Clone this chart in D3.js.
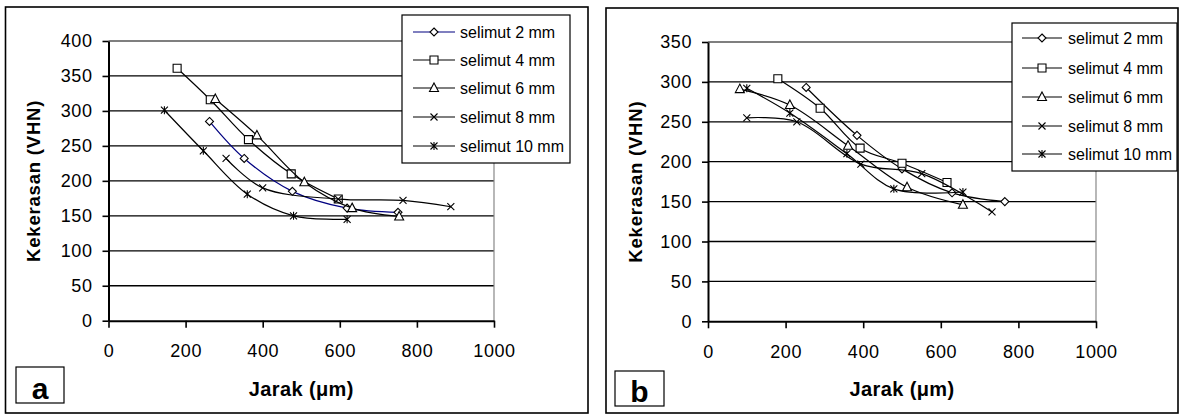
<!DOCTYPE html>
<html>
<head>
<meta charset="utf-8">
<script src="https://cdn.jsdelivr.net/npm/d3@7"></script>
<style>
  body { margin: 0; background: #fff; }
  svg { display: block; font-family: "Liberation Sans", Arial, sans-serif; }
</style>
</head>
<body>
<svg></svg>
<script>
var width = 1186;
var height = 416;

// legend names and ticks
var seriesNames = ["selimut 2 mm", "selimut 4 mm", "selimut 6 mm", "selimut 8 mm", "selimut 10 mm"];
var markerTypes = ["diamond", "square", "triangle", "cross", "star"];
var xTicks = [0, 200, 400, 600, 800, 1000];
var yTicksA = [0, 50, 100, 150, 200, 250, 300, 350, 400];
var yTicksB = [0, 50, 100, 150, 200, 250, 300, 350];

// panel a : [jarak (um), kekerasan (VHN)]
var a2mm  = [[262, 285], [352, 232], [477, 185], [619, 161], [751, 155]];
var a4mm  = [[178, 361], [264, 316], [363, 259], [474, 210], [596, 174]];
var a6mm  = [[277, 317], [385, 265], [508, 198], [632, 161], [754, 149]];
var a8mm  = [[305, 232], [400, 190], [596, 174], [764, 172], [888, 163]];
var a10mm = [[145, 301], [246, 243], [360, 181], [480, 150], [619, 145]];

// panel b
var b2mm  = [[253, 293], [384, 233], [500, 191], [629, 161], [765, 150]];
var b4mm  = [[180, 304], [289, 267], [392, 217], [500, 198], [616, 174]];
var b6mm  = [[82, 291], [211, 271], [361, 220], [513, 168], [657, 146]];
var b8mm  = [[100, 255], [229, 250], [394, 197], [551, 185], [732, 137]];
var b10mm = [[100, 292], [211, 261], [358, 210], [479, 166], [657, 162]];

var svg = d3.select("svg")
    .attr("width", width)
    .attr("height", height);

// marker shapes, roughly like the excel ones
function markerPath(type) {
    var s = 4;
    if (type == "diamond") return "M0," + (-s) + "L" + s + ",0L0," + s + "L" + (-s) + ",0Z";
    if (type == "square") return "M" + (-s) + "," + (-s) + "h" + (2*s) + "v" + (2*s) + "h" + (-2*s) + "Z";
    if (type == "triangle") return "M0," + (-s-1) + "L" + (s+0.5) + "," + (s-0.5) + "L" + (-s-0.5) + "," + (s-0.5) + "Z";
    if (type == "cross") return "M-3.5,-3.5L3.5,3.5M-3.5,3.5L3.5,-3.5";
    return "M-3.5,-3.5L3.5,3.5M-3.5,3.5L3.5,-3.5M0,-4L0,4";
}

function drawMarker(g, type, x, y) {
    g.append("path")
        .attr("d", markerPath(type))
        .attr("transform", "translate(" + x + "," + y + ")")
        .attr("fill", "#fff")
        .attr("stroke", "#000")
        .attr("stroke-width", 1.1);
}

function drawPanel(p) {
    var g = svg.append("g");

    // outer frame
    g.append("rect")
        .attr("x", p.frame[0]).attr("y", p.frame[1])
        .attr("width", p.frame[2] - p.frame[0]).attr("height", p.frame[3] - p.frame[1])
        .attr("fill", "none").attr("stroke", "#000").attr("stroke-width", 1.6);

    var x = d3.scaleLinear().domain([0, 1000]).range([p.left, p.right]);
    var y = d3.scaleLinear().domain([0, p.yMax]).range([p.bottom, p.top]);

    // gridlines
    g.selectAll(".grid")
        .data(p.yTicks.filter(function(d) { return d > 0; }))
        .enter().append("line")
        .attr("x1", p.left).attr("x2", p.right)
        .attr("y1", function(d) { return y(d); })
        .attr("y2", function(d) { return y(d); })
        .attr("stroke", function(d) { return d == p.yMax ? "#555" : "#000"; })
        .attr("stroke-width", 1.3);

    // right edge of plot area
    g.append("line")
        .attr("x1", p.right).attr("x2", p.right)
        .attr("y1", p.top).attr("y2", p.bottom)
        .attr("stroke", "#888").attr("stroke-width", 1.2);

    var yAxis = g.append("g")
        .attr("transform", "translate(" + p.left + ",0)")
        .call(d3.axisLeft(y).tickValues(p.yTicks).tickFormat(d3.format("d"))
            .tickSize(6).tickSizeOuter(0).tickPadding(10));

    var xAxis = g.append("g")
        .attr("transform", "translate(0," + p.bottom + ")")
        .call(d3.axisBottom(x).tickValues(xTicks).tickFormat(d3.format("d"))
            .tickSize(7).tickSizeOuter(0).tickPadding(17));

    [yAxis, xAxis].forEach(function(ax) {
        ax.select(".domain").attr("stroke", "#000").attr("stroke-width", 2);
        ax.selectAll(".tick line").attr("stroke", "#000").attr("stroke-width", 1.6);
        ax.selectAll(".tick text")
            .attr("fill", "#000")
            .style("font-family", "\"Liberation Sans\", Arial, sans-serif")
            .style("font-size", "18px")
            .style("letter-spacing", "0.6px");
    });

    // series
    var line = d3.line()
        .x(function(d) { return x(d[0]); })
        .y(function(d) { return y(d[1]); })
        .curve(d3.curveCatmullRom.alpha(0.5));

    p.series.forEach(function(s, i) {
        var sg = g.append("g");
        sg.append("path")
            .attr("d", line(s))
            .attr("fill", "none")
            .attr("stroke", p.colors[i])
            .attr("stroke-width", 1.2);
        s.forEach(function(d) {
            drawMarker(sg, markerTypes[i], x(d[0]), y(d[1]));
        });
    });

    // axis titles
    g.append("text")
        .attr("transform", "translate(" + p.yTitleX + "," + ((p.top + p.bottom) / 2) + ") rotate(-90)")
        .attr("text-anchor", "middle")
        .attr("dy", "0.35em")
        .attr("font-weight", "bold")
        .style("font-size", "18.5px")
        .style("letter-spacing", "0.8px")
        .text("Kekerasan (VHN)");

    g.append("text")
        .attr("x", (p.left + p.right) / 2)
        .attr("y", 396)
        .attr("text-anchor", "middle")
        .attr("font-weight", "bold")
        .style("font-size", "20px")
        .style("letter-spacing", "0.4px")
        .text("Jarak (\u03bcm)");

    // legend
    var L = p.legend;
    g.append("rect")
        .attr("x", L.x).attr("y", L.y)
        .attr("width", L.w).attr("height", L.h)
        .attr("fill", "#fff").attr("stroke", "#000").attr("stroke-width", 1.2);

    seriesNames.forEach(function(name, i) {
        var ly = L.rows[i];
        g.append("line")
            .attr("x1", L.lx1).attr("x2", L.lx2)
            .attr("y1", ly).attr("y2", ly)
            .attr("stroke", p.colors[i]).attr("stroke-width", 1.2);
        drawMarker(g, markerTypes[i], (L.lx1 + L.lx2) / 2, ly);
        g.append("text")
            .attr("x", L.tx).attr("y", ly)
            .attr("dy", "0.35em")
            .style("font-size", "16px")
            .text(name);
    });

    // panel tag
    g.append("rect")
        .attr("x", p.tag[0]).attr("y", p.tag[1])
        .attr("width", p.tag[2]).attr("height", p.tag[3])
        .attr("fill", "#fff").attr("stroke", "#000").attr("stroke-width", 1.2);
    g.append("text")
        .attr("x", p.tag[0] + p.tag[2] / 2)
        .attr("y", p.tag[1] + p.tag[3] - 4)
        .attr("text-anchor", "middle")
        .attr("font-weight", "bold")
        .style("font-size", "30px")
        .text(p.tagText);
}

drawPanel({
    frame: [5.5, 7, 588, 413],
    left: 108.5, right: 494, top: 41, bottom: 320.7,
    yMax: 400, yTicks: yTicksA,
    series: [a2mm, a4mm, a6mm, a8mm, a10mm],
    colors: ["#000080", "#000", "#000", "#000", "#000"],
    yTitleX: 34,
    legend: { x: 402, y: 15, w: 168, h: 148, rows: [32, 60, 88, 117, 146], lx1: 413, lx2: 455, tx: 460 },
    tag: [16, 367, 48, 36], tagText: "a"
});

drawPanel({
    frame: [606, 8, 1178, 413],
    left: 708, right: 1096, top: 42, bottom: 321.3,
    yMax: 350, yTicks: yTicksB,
    series: [b2mm, b4mm, b6mm, b8mm, b10mm],
    colors: ["#000", "#000", "#000", "#000", "#000"],
    yTitleX: 636,
    legend: { x: 1012, y: 23, w: 165, h: 148, rows: [38, 68, 97, 126, 154], lx1: 1022, lx2: 1062, tx: 1068 },
    tag: [615, 371, 49, 35], tagText: "b"
});
</script>
</body>
</html>
